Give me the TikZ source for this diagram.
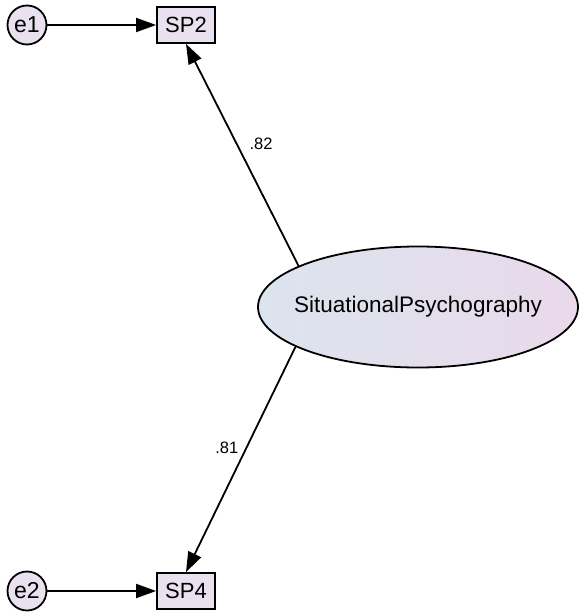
\documentclass[tikz,border=0pt]{standalone}
\usepackage{fontspec}
\setmainfont{Liberation Sans}
\usetikzlibrary{shapes.geometric,arrows.meta}
\definecolor{boxfill}{HTML}{E9E1EF}
\definecolor{leftshade}{HTML}{DCE4EE}
\definecolor{rightshade}{HTML}{E9D9EB}
\begin{document}
\begin{tikzpicture}[x=1pt,y=-1pt,
    obs/.style={draw, line width=1.8pt, fill=boxfill, minimum width=58pt, minimum height=36pt, inner sep=0pt, font=\fontsize{22}{26}\selectfont},
    err/.style={draw, circle, line width=1.8pt, fill=boxfill, minimum size=39pt, inner sep=0pt, font=\fontsize{23}{27}\selectfont},
    latent/.style={draw, ellipse, line width=1.8pt, left color=leftshade, right color=rightshade, minimum width=320pt, minimum height=121pt, inner xsep=-14pt, inner ysep=0pt, font=\fontsize{22.5}{27}\selectfont},
    path/.style={line width=1.8pt, -{Triangle[length=20pt,width=14pt]}},
    weight/.style={font=\fontsize{16.5}{20}\selectfont, inner sep=0pt}]
    \useasboundingbox (0,0) rectangle (578,612);
    \node[latent] (sit) at (418,307) {SituationalPsychography}; % factor
    \node[obs] (sp2) at (186,25) {SP2}; % indicators
    \node[obs] (sp4) at (186,591) {SP4};
    \node[err] (e1) at (27,25) {e1}; % error terms
    \node[err] (e2) at (27,591) {e2};
    \draw[path] (e1) -- (sp2);
    \draw[path] (e2) -- (sp4);
    \draw[path] (sit.161.8) -- node[weight, pos=0.55, right=12pt] (w2) {.82} (sp2.south); % loadings
    \draw[path] (sit.198.2) -- node[weight, pos=0.45, left=7pt] (w4) {.81} (sp4.north);
\end{tikzpicture}
\end{document}
